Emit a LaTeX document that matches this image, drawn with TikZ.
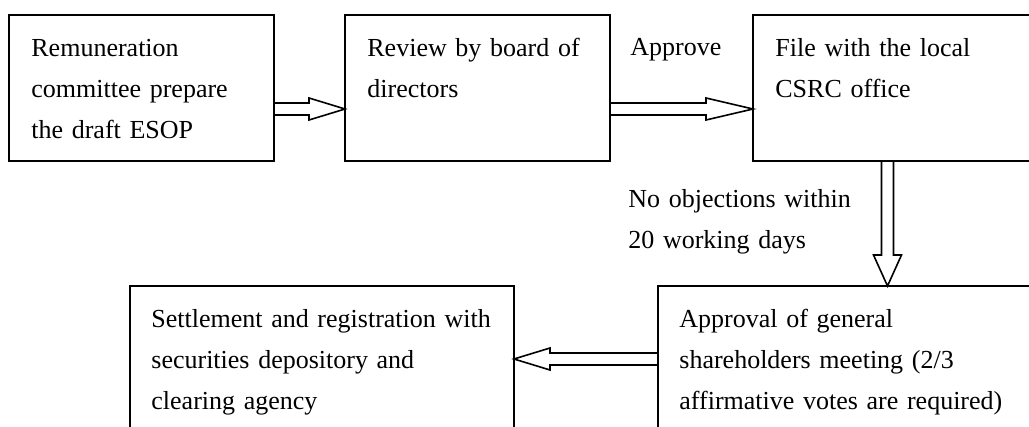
\documentclass[tikz,border=0pt]{standalone}
\usepackage{fontspec}
\setmainfont{Liberation Serif}
\usetikzlibrary{positioning,calc}

\newcommand{\boxfont}{\fontsize{13}{20.5}\selectfont}
% hollow block arrow: [half head width] from, to, head length
\newcommand{\fatarrow}[4][5.5pt]{%
  \coordinate (fa-a) at (#2);
  \coordinate (fa-b) at (#3);
  \coordinate (fa-h) at ($(fa-b)!#4!(fa-a)$);
  \draw[fat] ($(fa-a)!3pt!90:(fa-b)$) -- ($(fa-h)!3pt!90:(fa-b)$)
    -- ($(fa-h)!#1!90:(fa-b)$) -- (fa-b) -- ($(fa-h)!#1!-90:(fa-b)$)
    -- ($(fa-h)!3pt!-90:(fa-b)$) -- ($(fa-a)!3pt!-90:(fa-b)$);
}

\begin{document}
\begin{tikzpicture}[x=0.5pt,y=-0.5pt,
    box/.style={draw,line width=0.8pt,minimum height=73pt,inner sep=0pt,outer sep=0pt},
    txt/.style={anchor=north west,inner sep=0pt,text width=220pt,align=left,
      font=\boxfont,execute at begin node=\strut},
    fat/.style={line width=0.8pt,line join=miter}]
  \useasboundingbox (0,0) rectangle (1029,427);
  \clip (0,0) rectangle (1029,427);

  \node[box,minimum width=132.5pt,anchor=north west] (prep) at (9,15) {};
  \node[box,minimum width=132.5pt,right=35.5pt of prep] (review) {};
  \node[box,minimum width=150pt,right=71.5pt of review] (file) {};
  \node[box,minimum width=200pt,anchor=north west] (meeting) at (658,286) {};
  \node[box,minimum width=192pt,left=72pt of meeting] (settle) {};

  % box texts
  \node[txt] (prep-t) at ([shift={(11pt,-6.15pt)}]prep.north west)
    {Remuneration\\committee prepare\\the draft ESOP};
  \node[txt] (review-t) at ([shift={(11pt,-6.15pt)}]review.north west)
    {Review by board of\\directors};
  \node[txt] (file-t) at ([shift={(11pt,-6.15pt)}]file.north west)
    {File with the local\\CSRC office};
  \node[txt] (meeting-t) at ([shift={(10.5pt,-6.15pt)}]meeting.north west)
    {Approval of general\\shareholders meeting (2/3\\affirmative votes are required)};
  \node[txt] (settle-t) at ([shift={(10.5pt,-6.15pt)}]settle.north west)
    {Settlement and registration with\\securities depository and\\clearing agency};

  % arrow labels
  \node[anchor=base west,inner sep=0pt,font=\boxfont] (ok)
    at ([shift={(10pt,-20.5pt)}]review.north east) {Approve};
  \node[txt] (wait) at ([shift={(-62.5pt,-8.65pt)}]file.south west)
    {No objections within\\20 working days};

  % arrows
  \fatarrow{[yshift=-10.5pt]prep.east}{[yshift=-10.5pt]review.west}{18pt}
  \fatarrow{[yshift=-10.5pt]review.east}{[yshift=-10.5pt]file.west}{23.5pt}
  \fatarrow[7pt]{[xshift=67.25pt]file.south west}{[xshift=114.75pt]meeting.north west}{15.5pt}
  \fatarrow{meeting.west}{settle.east}{18pt}
\end{tikzpicture}
\end{document}
